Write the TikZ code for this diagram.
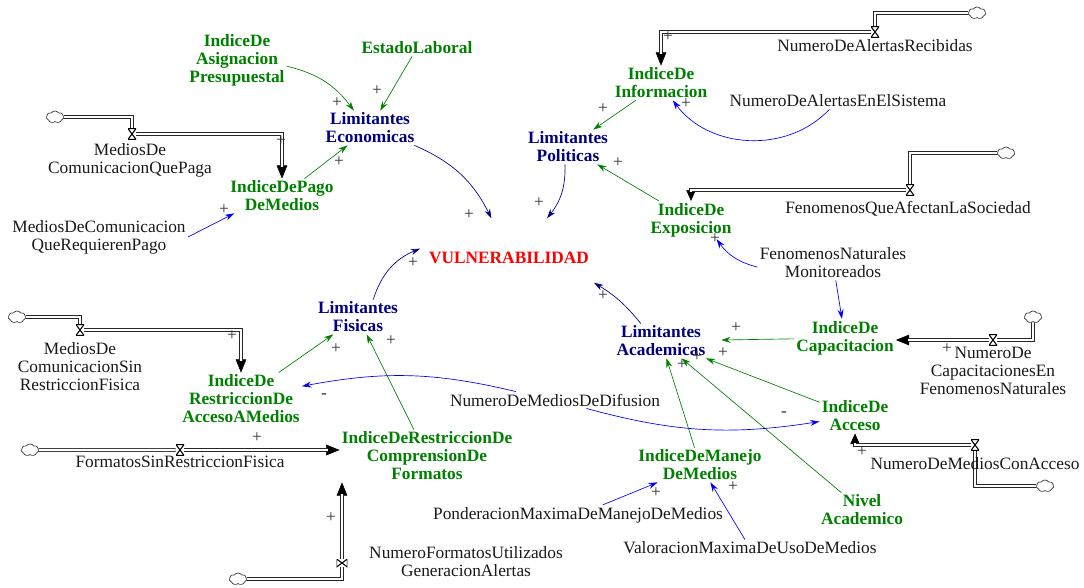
\documentclass[tikz,border=0pt]{standalone}
\usepackage{fontspec}
\setmainfont{Liberation Serif}
\usetikzlibrary{arrows.meta,shapes.symbols,backgrounds}
\definecolor{VGREEN}{RGB}{0,128,0}
\definecolor{VNAVY}{RGB}{0,0,128}
\definecolor{VBLUE}{RGB}{0,0,255}
\definecolor{VRED}{RGB}{255,0,0}
\begin{document}
\begin{tikzpicture}
[
 x=0.75pt, y=-0.75pt,
 every node/.style ={font=\fontsize{13}{13.5}\selectfont, align=center, inner sep=1.5pt},
 AUX/.style={text=black!90},
 GVAR/.style={text=VGREEN, font=\fontsize{13}{13.5}\selectfont\bfseries},
 NVAR/.style={text=VNAVY, font=\fontsize{13}{13.5}\selectfont\bfseries},
 VUL/.style={text=VRED, font=\fontsize{13}{13.5}\selectfont\bfseries, minimum width=133pt, text height=34pt, text depth=14pt, inner sep=0},
 SIGN/.style={text=black!80, font=\fontsize{13}{13}\selectfont, inner sep=0},
 CLOUD/.style={cloud, cloud puffs=7, cloud puff arc=110, draw=black!80, fill=white, line width=0.5pt, minimum width=13pt, minimum height=9pt, inner sep=0},
 VALVE/.style={rectangle, fill=white, minimum width=6pt, minimum height=8pt, inner sep=0,
   path picture={\draw[line width=0.8pt] (path picture bounding box.north west) -- (path picture bounding box.north east)
     -- (path picture bounding box.south west) -- (path picture bounding box.south east) -- cycle;}},
 VALVEV/.style={rectangle, fill=white, minimum width=8pt, minimum height=6pt, inner sep=0,
   path picture={\draw[line width=0.8pt] (path picture bounding box.north west) -- (path picture bounding box.south west)
     -- (path picture bounding box.north east) -- (path picture bounding box.south east) -- cycle;}},
 PIPE/.style={draw=black!85, line width=0.55pt, double=white, double distance=1.8pt},
 PIPEEND/.style={PIPE, shorten >=9pt},
 TIP/.style={draw=black, line width=0.4pt, -{Triangle[length=10pt,width=8pt]}},
 PIPEENDS/.style={PIPE, shorten >=7pt},
 TIPS/.style={draw=black, line width=0.4pt, -{Triangle[length=8pt,width=7pt]}},
 GLINK/.style={draw=VGREEN, line width=0.5pt, -{Stealth[length=7pt,width=4.5pt]}},
 BLINK/.style={draw=VBLUE, line width=0.5pt, -{Stealth[length=7pt,width=4.5pt]}},
 NLINK/.style={draw=VNAVY, line width=0.5pt, -{Stealth[length=7pt,width=4.5pt]}},
 ]
\useasboundingbox (0,0) rectangle (1084,588);
%
\node [GVAR]  (IAP) at (237,60)  {IndiceDe\\Asignacion\\Presupuestal};
\node [GVAR]  (EL)  at (417,48)  {EstadoLaboral};
\node [NVAR]  (LE)  at (370,128) {Limitantes\\Economicas};
\node [AUX]   (MQP) at (130,160) {MediosDe\\ComunicacionQuePaga};
\node [GVAR]  (IPM) at (282,196) {IndiceDePago\\DeMedios};
\node [AUX]   (MRP) at (99,237)  {MediosDeComunicacion\\QueRequierenPago};
%
\node [GVAR]  (II)  at (661,83)  {IndiceDe\\Informacion};
\node [AUX]   (NAR) at (875,46)  {NumeroDeAlertasRecibidas};
\node [AUX]   (NAS) at (838,101) {NumeroDeAlertasEnElSistema};
\node [NVAR]  (LP)  at (568,147) {Limitantes\\Politicas};
\node [GVAR]  (IE)  at (691,220) {IndiceDe\\Exposicion};
\node [AUX]   (FQS) at (908,209) {FenomenosQueAfectanLaSociedad};
\node [AUX]   (FNM) at (833,263) {FenomenosNaturales\\Monitoreados};
%
\node [VUL]   (V)   at (509,250.5) {VULNERABILIDAD};
%
\node [NVAR]  (LF)  at (358,317) {Limitantes\\Fisicas};
\node [NVAR, minimum width=90pt] (LA) at (661,341) {Limitantes\\Academicas};
\node [GVAR]  (IC)  at (845,338) {IndiceDe\\Capacitacion};
\node [AUX]   (NCF) at (993,371) {NumeroDe\\CapacitacionesEn\\FenomenosNaturales};
\node [AUX]   (MSF) at (80,367)  {MediosDe\\ComunicacionSin\\RestriccionFisica};
\node [GVAR]  (IRA) at (241,399) {IndiceDe\\RestriccionDe\\AccesoAMedios};
\node [AUX]   (NMD) at (555,400) {NumeroDeMediosDeDifusion};
\node [GVAR]  (IA)  at (855,416) {IndiceDe\\Acceso};
\node [GVAR]  (IRC) at (427,456) {IndiceDeRestriccionDe\\ComprensionDe\\Formatos};
\node [AUX]   (FSF) at (180,462) {FormatosSinRestriccionFisica};
\node [AUX]   (NMA) at (975,464) {NumeroDeMediosConAcceso};
\node [GVAR]  (IMM) at (700,465) {IndiceDeManejo\\DeMedios};
\node [GVAR]  (NA)  at (862,510) {Nivel\\Academico};
\node [AUX]   (PMM) at (578,515) {PonderacionMaximaDeManejoDeMedios};
\node [AUX]   (VMU) at (750,548) {ValoracionMaximaDeUsoDeMedios};
\node [AUX]   (NFU) at (466,562) {NumeroFormatosUtilizados\\GeneracionAlertas};
%
\node [CLOUD] (C1) at (55,117)   {};
\node [VALVE] (V1) at (132,134)  {};
\node [CLOUD] (C2) at (17,317)   {};
\node [VALVE] (V2) at (80,330)   {};
\node [CLOUD] (C3) at (30,450)   {};
\node [VALVE] (V3) at (180,450)  {};
\node [CLOUD] (C4) at (238,579)  {};
\node [VALVEV] (V4) at (342,563) {};
\node [CLOUD] (C5) at (977,13)   {};
\node [VALVE] (V5) at (875,32)   {};
\node [CLOUD] (C6) at (1006,153) {};
\node [VALVE] (V6) at (910,190)  {};
\node [CLOUD] (C7) at (1033,317) {};
\node [VALVE] (V7) at (993,340)  {};
\node [CLOUD] (C8) at (1045,486) {};
\node [VALVE] (V8) at (975,445)  {};
%
\begin{scope}[on background layer]
\draw [PIPE]     (C1) -| (V1);
\draw [TIP]      (V1) -| (IPM);
\draw [PIPEEND]  (V1) -| (IPM);
\draw [PIPE]     (C2) -| (V2);
\draw [TIP]      (V2) -| (IRA);
\draw [PIPEEND]  (V2) -| (IRA);
\draw [PIPE]     (C3) -- (V3);
\draw [TIP]      (V3) -- (V3 -| IRC.west);
\draw [PIPEEND]  (V3) -- (V3 -| IRC.west);
\draw [PIPE]     (C4) -| (V4);
\draw [TIP]      (V4) -- (V4 |- IRC.south);
\draw [PIPEEND]  (V4) -- (V4 |- IRC.south);
\draw [PIPE]     (C5) -| (V5);
\draw [TIP]      (V5) -| (II);
\draw [PIPEEND]  (V5) -| (II);
\draw [PIPE]     (C6) -| (V6);
\draw [TIPS]     (V6) -| (IE);
\draw [PIPEENDS] (V6) -| (IE);
\draw [PIPE]     (C7) |- (V7);
\draw [TIP]      (V7) -- (V7 -| IC.east);
\draw [PIPEEND]  (V7) -- (V7 -| IC.east);
\draw [PIPE]     (C8) -| (V8);
\draw [TIPS]     (V8) -| (IA);
\draw [PIPEENDS] (V8) -| (IA);
\end{scope}
%
\draw [GLINK]  (IAP) to [bend left=20] (LE);
\draw [GLINK]  (EL)  -- (LE);
\draw [GLINK]  (IPM) -- (LE);
\draw [BLINK]  (MRP.east) -- (IPM.200);
%
\draw [NLINK]  (LE) to [bend left=20] (V);
\draw [NLINK]  (LP) to [bend left=20] (V);
\draw [NLINK]  (LF) to [bend left=25] (V);
\draw [NLINK]  (LA) to [bend right=10] (V);
%
\draw [GLINK]  (II)  -- (LP);
\draw [GLINK]  (IE)  -- (LP);
\draw [BLINK]  (NAS) to [bend left=50] (II);
\draw [BLINK]  (FNM) to [bend left=20] (IE);
\draw [BLINK]  (FNM) -- (IC);
%
\draw [GLINK]  (IC)  -- (LA);
\draw [GLINK]  (IA)  -- (LA);
\draw [GLINK]  (NA)  -- (LA);
\draw [GLINK]  (IMM) -- (LA);
\draw [BLINK]  (PMM) -- (IMM);
\draw [BLINK]  (VMU) -- (IMM);
%
\draw [GLINK]  (IRA) -- (LF);
\draw [GLINK]  (IRC) -- (LF);
\draw [BLINK]  (NMD) to [bend right=12] (IRA);
\draw [BLINK]  (NMD) to [bend right=12] (IA);
%
\foreach \px/\py [count=\k] in {337/103, 377/91, 339/162, 281/141, 224/210, 469/215, 539/203,
   413/263, 603/296, 603/109, 618/163, 668/37, 686/104, 715/239, 736/328, 723/353, 697/357,
   682/365, 656/493, 733/487, 947/349, 862/452, 336/349, 391/341, 232/336, 257/438, 331/518}
  { \node [SIGN] (S\k) at (\px,\py) {+}; }
\node [SIGN] (M1) at (324,396) {-};
\node [SIGN] (M2) at (784,414) {-};
%
\end{tikzpicture}
\end{document}
